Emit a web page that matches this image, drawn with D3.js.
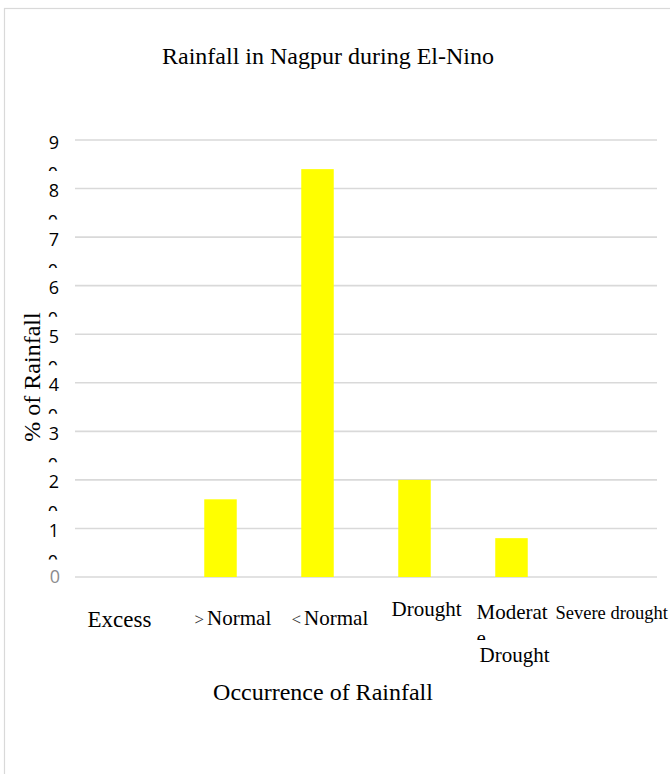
<!DOCTYPE html>
<html>
<head>
<meta charset="utf-8">
<script src="https://cdn.jsdelivr.net/npm/d3@7"></script>
<style>
  body { margin: 0; background: #fff; }
  text { font-family: "Liberation Serif", "Times New Roman", serif; fill: #000; }
  .tick-label { font-family: "Open Sans", sans-serif; font-size: 18px; }
</style>
</head>
<body>
<div id="chart"></div>
<script>

var categories = ["Excess", ">Normal", "<Normal", "Drought", "Moderate Drought", "Severe drought"];
var rainfall = [0, 16, 84, 20, 8, 0];
var yTicks = [0, 10, 20, 30, 40, 50, 60, 70, 80, 90];
var yTickLabels = ["0", "10", "20", "30", "40", "50", "60", "70", "80", "90"];

var width = 670;
var height = 774;

var margin = {
  top: 140,
  right: 13,
  bottom: 197,
  left: 75
};

var svg = d3.select("#chart")
  .append("svg")
  .attr("width", width)
  .attr("height", height);

var defs = svg.append("defs");

// chart area border (runs off the right and bottom of the picture)
svg.append("rect")
  .attr("x", 4.5)
  .attr("y", 8.5)
  .attr("width", 700)
  .attr("height", 800)
  .attr("fill", "none")
  .attr("stroke", "#d9d9d9")
  .attr("stroke-width", 1.2);

var xScale = d3.scaleBand()
  .domain(categories)
  .range([margin.left, width - margin.right])
  .paddingInner(0.665)
  .paddingOuter(0.3325);

var yScale = d3.scaleLinear()
  .domain([0, 90])
  .range([height - margin.bottom, margin.top]);

// gridlines
svg.append("g")
  .selectAll("line")
  .data(yTicks)
  .enter()
  .append("line")
    .attr("x1", margin.left)
    .attr("x2", width - margin.right)
    .attr("y1", function(d) { return yScale(d); })
    .attr("y2", function(d) { return yScale(d); })
    .attr("stroke", "#d9d9d9")
    .attr("stroke-width", 1.6);

// y tick labels: two-digit labels wrap, second line is clipped
var yLabels = svg.append("g");
yTicks.forEach(function(v, i) {
  var y = yScale(v);
  var label = yTickLabels[i];
  if (label.length === 1) {
    yLabels.append("text")
      .attr("class", "tick-label")
      .attr("x", 60)
      .attr("y", y + 6)
      .attr("text-anchor", "end")
      .style("fill", "#8c8c8c")
      .text(label);
    return;
  }
  yLabels.append("text")
    .attr("class", "tick-label")
    .attr("x", 59)
    .attr("y", y + 8.5)
    .attr("text-anchor", "end")
    .text(label.slice(0, 1));

  var clipId = "yclip" + i;
  defs.append("clipPath").attr("id", clipId)
    .append("rect")
      .attr("x", 30)
      .attr("y", y + 26)
      .attr("width", 40)
      .attr("height", 5);
  yLabels.append("text")
    .attr("class", "tick-label")
    .attr("x", 58)
    .attr("y", y + 39.5)
    .attr("text-anchor", "end")
    .attr("clip-path", "url(#" + clipId + ")")
    .text(label.slice(1));
});

// bars
svg.selectAll("rect.bar")
  .data(rainfall)
  .enter()
  .append("rect")
    .attr("class", "bar")
    .attr("x", function(d, i) { return xScale(categories[i]); })
    .attr("y", function(d) { return yScale(d); })
    .attr("width", xScale.bandwidth())
    .attr("height", function(d) { return yScale(0) - yScale(d); })
    .attr("fill", "#ffff00");

// category labels (placed the way the original word-wrapped them)
var mid = function(c) { return xScale(c) + xScale.bandwidth() / 2; };
var xl = svg.append("g");

xl.append("text")
  .attr("x", mid("Excess") - 4)
  .attr("y", 627)
  .attr("text-anchor", "middle")
  .style("font-size", "23px")
  .text("Excess");

[">Normal", "<Normal"].forEach(function(c) {
  var t = xl.append("text")
    .attr("x", mid(c) - 26)
    .attr("y", 625)
    .style("font-size", "21px");
  t.append("tspan").style("font-size", "17px").style("fill", "#333").text(c.slice(0, 1));
  t.append("tspan").attr("dx", 3).text(c.slice(1));
});

xl.append("text")
  .attr("x", mid("Drought") + 12)
  .attr("y", 616)
  .attr("text-anchor", "middle")
  .style("font-size", "21px")
  .text("Drought");

var mx = mid("Moderate Drought") - 35;
xl.append("text")
  .attr("x", mx)
  .attr("y", 619)
  .style("font-size", "21px")
  .text("Moderat");
defs.append("clipPath").attr("id", "eclip")
  .append("rect")
    .attr("x", mx - 5)
    .attr("y", 630)
    .attr("width", 30)
    .attr("height", 10);
xl.append("text")
  .attr("x", mx)
  .attr("y", 645)
  .attr("clip-path", "url(#eclip)")
  .style("font-size", "21px")
  .text("e");
xl.append("text")
  .attr("x", mx + 3)
  .attr("y", 662)
  .style("font-size", "21px")
  .text("Drought");

xl.append("text")
  .attr("x", mid("Severe drought") - 53)
  .attr("y", 619)
  .style("font-size", "18.5px")
  .text("Severe drought");

// titles
svg.append("text")
  .attr("x", 328)
  .attr("y", 64)
  .attr("text-anchor", "middle")
  .style("font-size", "24px")
  .text("Rainfall in Nagpur during El-Nino");

svg.append("text")
  .attr("x", 323)
  .attr("y", 700)
  .attr("text-anchor", "middle")
  .style("font-size", "24px")
  .text("Occurrence of Rainfall");

svg.append("text")
  .attr("transform", "rotate(-90)")
  .attr("x", -377)
  .attr("y", 40)
  .attr("text-anchor", "middle")
  .style("font-size", "24px")
  .text("% of Rainfall");

</script>
</body>
</html>
